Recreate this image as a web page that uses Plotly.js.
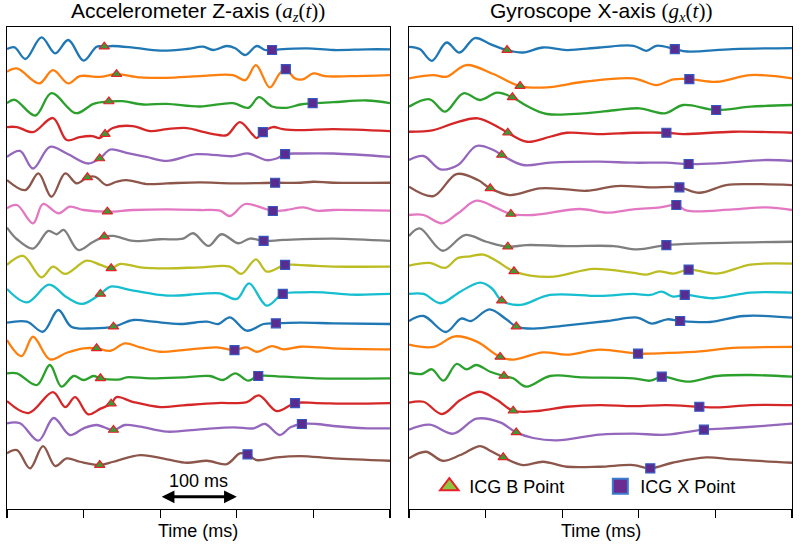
<!DOCTYPE html>
<html><head><meta charset="utf-8">
<script src="https://cdn.plot.ly/plotly-3.0.1.min.js"></script>
<style>html,body{margin:0;padding:0;background:#fff}</style>
</head><body><div id="chart" style="width:800px;height:545px"></div>
<script>
// ---- Accelerometer Z-axis: time (ms) and amplitude (a.u.) for 16 beats ----
const accTime = [
 [0,10,24,45,63,80,100,117,127,138,165,200,235,256,269,287,298,311,326,337,346,356,392,426,470,500],
 [0,13,42,60,80,95,121,143,174,208,252,295,311,325,343,356,364,376,386,400,415,448,500],
 [0,10,37,58,90,113,133,151,178,208,252,295,315,329,346,365,383,399,426,470,500],
 [0,13,34,60,78,95,111,121,128,138,164,187,209,235,252,269,287,304,320,326,334,347,360,383,426,500],
 [0,17,34,56,78,106,121,135,156,182,209,248,295,315,339,352,363,383,426,500],
 [0,24,41,58,76,91,105,115,130,143,156,182,209,252,295,350,383,400,426,500],
 [0,13,34,47,67,82,100,131,165,209,252,278,291,311,335,347,365,387,404,426,500],
 [0,13,34,54,65,74,93,111,127,139,165,200,230,243,263,280,302,317,335,361,426,500],
 [0,21,45,60,76,104,122,136,148,174,209,252,291,306,325,339,363,378,404,426,500],
 [0,26,55,78,98,122,135,165,209,252,278,300,316,339,360,383,413,448,500],
 [0,26,47,67,84,113,139,165,191,226,261,276,291,313,335,351,383,426,500],
 [0,19,34,56,78,100,117,135,154,174,200,230,274,297,313,326,346,361,383,426,500],
 [0,13,39,56,71,87,100,113,122,148,156,187,230,265,282,298,315,328,361,404,500],
 [0,28,60,76,89,106,122,136,143,165,200,230,274,313,329,352,376,404,448,500],
 [0,17,41,61,82,100,117,139,154,174,209,252,296,322,337,356,370,385,404,426,470,500],
 [0,13,30,47,63,78,95,121,139,174,209,235,261,287,304,314,326,352,383,426,500]
];
const accAmp = [
 [-1.2,0.5,-11.2,10.5,-5.5,7.8,-12.9,1.1,1.1,1.8,0.1,-2.9,-1.2,1.1,-2.2,1.8,-0.5,-7.2,1.8,-2.2,-2.2,-1.5,-0.5,-2.2,-1.5,-1.5],
 [3.3,6.7,-8.3,5,-8.3,-1,-1.7,1,-2.3,-2.7,-1,0,-5,10,-12.3,1.7,6,-3.3,-4.3,1.7,-1,-1,0],
 [-0.7,2.7,-13,9.3,-10.7,-1.3,1,1.3,-2,-1.3,-4,-0.7,-5.3,5.3,-4,-5.3,-2,-0.7,0.3,2,-0.7],
 [2.8,2.8,-2.2,11.8,-10.2,-7.2,-6.2,-8.2,-4.2,1.8,3.8,-1.2,0.8,1.8,-1.2,-4.2,-5.2,7.8,-4.2,-8.2,-2.2,2.8,0.8,-0.2,0.8,-1.2],
 [0.3,6.3,-11.3,10.3,3.7,-6.3,-1.3,7.7,4.3,0.3,-3.7,3,1,3.7,-3,-1.3,3,3.7,3.7,0.3],
 [4.5,-5.5,11.2,-12.2,11.2,1.2,7.2,7.8,-0.5,2.8,4.5,0.5,1.2,2.2,1.2,1.8,1.8,2.8,1.8,1.8],
 [3.6,6.9,-11.4,7.9,-1.4,5.2,1.9,0.2,1.9,2.6,1.9,1.2,-4.1,7.9,3.6,0.9,1.9,4.6,1.2,1.9,1.2],
 [11.7,0,-9.3,8.3,5,9.3,-10.7,-3.3,2.7,3.3,-1.7,0,0.7,6,-6.7,5,-4,0.7,-1.7,-0.7,0.7,-1.7],
 [1.7,10.7,-10.7,0,-7.3,6,1.7,-1.7,2.7,-0.7,-1.7,-0.7,0,-7.3,7.3,-5,1.7,1.7,0.7,0,0],
 [5,-8.4,9.3,-3.4,-10,0,7.3,3.3,-1.7,0,0.6,-5,10.6,-11.7,0,1.6,1.6,-0.7,0],
 [-1.4,-0.4,-10.4,11.3,-5.4,-7,-5.4,1.3,-0.4,-2.7,-0.4,-2.7,4,-9.4,-2.7,-2,-1.4,-2,-2.7],
 [8.6,-7.4,11.9,-10.7,-4.1,0.3,0.3,-2.1,5.3,1.3,-3.1,-1.4,1.3,-1.4,1.3,-3.1,2.6,-0.7,1.9,0.3,-0.7],
 [2.7,2.7,-9,11,-10.7,0,-4,0,-2.3,-3.3,-1.3,-2.3,-1.3,0,-4,2.7,-4.7,0,-0.7,-2.3,-2.3],
 [2.3,-9.7,11.3,-3.7,6.3,-11,-5.3,-0.3,6.3,1.3,-3.7,-2,0.3,1.3,8,-7.7,0.3,0.3,-0.3,0.3],
 [7.4,7.4,-10,12.7,-4.3,2.4,5.7,0.7,5.7,4,-1,1.4,3.4,2.4,6.7,-4.3,3.4,6.7,6.7,4.7,2.4,2.4],
 [4.7,8,-10.3,12,-8,-0.3,-3.7,-7,-3.7,3,-1.3,-4.7,-2.7,-6,4.7,3.7,-2,0.7,2,-0.3,-2.7]
];
const accBPoint = [127,143,133,128,121,105,131,127,136,122,139,117,122,136,139,121];
const accXPoint = [346,364,399,334,363,350,347,335,363,360,351,297,328,376,385,314];

// ---- Gyroscope X-axis ----
const gyrTime = [
 [0,14,30,49,66,86,106,128,149,175,206,249,293,310,323,347,363,423,500],
 [0,32,49,75,110,145,180,228,293,323,345,366,402,446,500],
 [0,27,47,71,93,115,135,154,180,228,271,301,334,358,401,446,500],
 [0,32,58,90,119,129,154,184,206,249,293,336,358,423,500],
 [0,19,41,64,88,110,121,149,184,249,293,336,365,402,467,500],
 [0,32,62,90,106,132,171,206,232,271,315,353,379,414,446,500],
 [0,19,43,64,88,115,133,162,223,258,293,328,349,363,423,467,500],
 [0,14,44,73,101,129,154,206,267,298,336,380,500],
 [0,27,47,64,80,97,115,137,184,241,293,310,326,345,365,402,446,500],
 [0,19,41,67,93,108,121,145,184,249,293,315,330,345,360,397,446,500],
 [0,19,48,68,81,105,127,140,162,206,259,298,317,337,354,393,437,500],
 [0,32,60,88,119,136,175,206,249,299,337,380,423,500],
 [0,17,30,45,62,75,88,106,124,136,153,184,228,293,315,330,363,402,446,500],
 [0,19,43,67,92,115,136,171,206,249,293,336,379,402,446,500],
 [0,27,58,88,119,140,162,193,249,293,336,385,423,467,500],
 [0,22,44,67,93,106,123,149,175,206,249,293,315,344,388,423,500]
];
const gyrAmp = [
 [1,-1.3,-13,5.3,-4.7,9.7,3.7,-2.3,-4.7,0.3,-2.3,0.3,2,-3,2,-1.3,-3.7,-1.3,-0.3],
 [-3.2,0.1,-1.6,10.1,1.1,-10.9,-12.2,-6.6,-3.2,-9.9,-4.2,-3.9,-6.6,0.1,-3.2],
 [-4.2,3.2,-9.2,9.2,2.5,9.8,5.2,-3.5,-11.5,-10.8,-7.5,-5.8,-10.8,-2.5,-7.5,-4.2,-2.5],
 [-1.9,-0.2,6.5,11.5,1.5,-2.9,-11.9,-6.9,-2.9,-4.2,-2.9,-2.9,-4.2,-1.9,-2.9],
 [-2.8,1.2,-12.1,-7.8,11.2,7.2,2.2,-7.8,-5.5,-4.5,-5.5,-5.5,-6.8,-6.1,-2.8,-3.8],
 [-2.2,-11.5,10.5,4.5,-3.8,-10.5,-3.8,-4.8,-6.2,-1.5,-2.8,-2.8,-8.2,-0.5,0.5,-0.5],
 [-3.1,-3.1,-11.4,-1.4,11.2,3.6,-2.1,-3.1,2.9,-0.8,2.6,4.6,6.9,1.2,2.6,4.6,1.9],
 [3.2,10.9,-11.5,4.2,-2.5,-7.5,-5.8,-6.8,-6.8,-10.1,-5.8,-4.1,-2.5],
 [1,3.7,-1.3,8.7,10.3,12,5.3,-4.7,-10.3,-2.3,-6.3,-8,-4.7,-7,-3,-7,2,3],
 [0,0,-9.3,2.3,11.3,5.7,-6.7,-11,-1,-2,0,-1,2.3,-2.7,-1,-4.3,1.3,1.3],
 [0.3,5.3,-10.7,2.7,0.3,12,2,-5.3,-7.3,-4,0.3,3.7,-2.3,2,0.3,-0.7,5.3,3.7],
 [4,1.7,12.3,7.3,-8.3,-11,-3.7,-6,-1,-5,-4.3,-2.7,0.7,1.7],
 [3.3,2,6.7,-4.7,12,6.7,11,4.3,0,-2.3,-10.7,0,-1.3,-2.3,-4.7,-0.7,-5.7,0,1,-0.7],
 [0.6,1.6,-10.7,3.3,11.6,3.3,-7.4,-7.4,-3.4,-1.7,-2.7,-1.7,-3.4,-4,-1.7,-1.7],
 [1,6,-3,12,8.3,-1.7,-7.3,-9.7,-4,-3,-4,1,2.7,5,7],
 [-0.3,6.3,-2.7,3,12,7.3,0.7,-7,-3.7,-8.7,-8.7,-7,-10.3,-4.7,0.7,-1.3,-4.7]
];
const gyrBPoint = [128,145,135,129,121,106,133,129,137,121,140,119,124,136,140,123];
const gyrXPoint = [347,366,401,336,365,353,349,336,365,360,354,299,330,379,385,315];

const legendNames = ['ICG B Point', 'ICG X Point'];
const panelTitles = [
  'Accelerometer Z-axis <span style="font-family:Liberation Serif">(<i>a</i><sub><i>z</i></sub>(<i>t</i>))</span>',
  'Gyroscope X-axis <span style="font-family:Liberation Serif">(<i>g</i><sub><i>x</i></sub>(<i>t</i>))</span>'
];
const xLabel = 'Time (ms)';
const scaleLabel = '100 ms';

// ---- drawing ----
const colors = ['#1f77b4','#ff7f0e','#2ca02c','#d62728','#9467bd','#8c564b','#e377c2','#7f7f7f','#bcbd22','#17becf'];
const SPACING = 27.35;
const traces = [];

function valueAt(t, a, tq){
  const k = t.indexOf(tq);
  if (k >= 0) return a[k];
  for (let j=0;j<t.length-1;j++){
    if (tq>=t[j] && tq<=t[j+1]) { const f=(tq-t[j])/(t[j+1]-t[j]); return a[j]+f*(a[j+1]-a[j]); }
  }
  return 0;
}

function buildPanel(times, amps, bPts, xPts, xa, ya){
  times.forEach((t,i)=>{
    const off = -i*SPACING;
    traces.push({x:t, y:amps[i].map(v=>v+off), xaxis:xa, yaxis:ya, type:'scatter', mode:'lines',
      line:{color:colors[i%10], width:2.3, shape:'spline', smoothing:1}, showlegend:false, hoverinfo:'skip'});
  });
  const by = bPts.map((tq,i)=>valueAt(times[i], amps[i], tq) - i*SPACING);
  const xy = xPts.map((tq,i)=>valueAt(times[i], amps[i], tq) - i*SPACING);
  traces.push({x:bPts, y:by, xaxis:xa, yaxis:ya, type:'scatter', mode:'markers', showlegend:false, hoverinfo:'skip',
    marker:{symbol:'triangle-up', size:9, color:'#3a9a35', line:{color:'#e8202a', width:1.2}}});
  traces.push({x:xPts, y:xy, xaxis:xa, yaxis:ya, type:'scatter', mode:'markers', showlegend:false, hoverinfo:'skip',
    marker:{symbol:'square', size:9, color:'#5b2c8f', line:{color:'#3557c0', width:1.2}}});
}
buildPanel(accTime, accAmp, accBPoint, accXPoint, 'x', 'y');
buildPanel(gyrTime, gyrAmp, gyrBPoint, gyrXPoint, 'x2', 'y2');

// legend entries
traces.push({x:[null], y:[null], xaxis:'x2', yaxis:'y2', type:'scatter', mode:'markers', name:legendNames[0],
  marker:{symbol:'triangle-up', size:16, color:'#8dc63f', line:{color:'#e8202a', width:2}}});
traces.push({x:[null], y:[null], xaxis:'x2', yaxis:'y2', type:'scatter', mode:'markers', name:legendNames[1],
  marker:{symbol:'square', size:15, color:'#6a2c91', line:{color:'#3b7bd0', width:2}}});

const FONT = 'Liberation Sans, Arial, sans-serif';
const xCommon = {range:[0,500], tickvals:[0,100,200,300,400,500], ticks:'outside', ticklen:8, tickwidth:1.3, tickcolor:'#000',
  showticklabels:false, showline:true, mirror:true, linecolor:'#000', linewidth:1.3, showgrid:false, zeroline:false, fixedrange:true};
const yCommon = {range:[-461.2, 20.8], showticklabels:false, ticks:'', showline:true, mirror:true, linecolor:'#000', linewidth:1.3,
  showgrid:false, zeroline:false, fixedrange:true};

const layout = {
  width:800, height:545, autosize:false,
  margin:{l:7, r:8, t:27, b:36, autoexpand:false},
  paper_bgcolor:'#fff', plot_bgcolor:'#fff',
  font:{family:FONT, color:'#000', size:18},
  xaxis:Object.assign({domain:[0, 0.4879], anchor:'y'}, xCommon),
  yaxis:Object.assign({domain:[0,1], anchor:'x'}, yCommon),
  xaxis2:Object.assign({domain:[0.5121, 1], anchor:'y2'}, xCommon),
  yaxis2:Object.assign({domain:[0,1], anchor:'x2'}, yCommon),
  showlegend:true,
  legend:{orientation:'h', x:0.538, xanchor:'left', y:0.085, yanchor:'top', bgcolor:'rgba(0,0,0,0)',
    font:{family:FONT, size:18, color:'#000'}, entrywidth:126, itemclick:false},
  annotations:[
    {text:panelTitles[0], xref:'paper', yref:'paper', x:0.2439, y:1, yanchor:'bottom', xanchor:'center', showarrow:false, font:{size:21}},
    {text:panelTitles[1], xref:'paper', yref:'paper', x:0.7561, y:1, yanchor:'bottom', xanchor:'center', showarrow:false, font:{size:21}},
    {text:xLabel, xref:'paper', yref:'paper', x:0.2439, y:-0.02, yanchor:'top', xanchor:'center', showarrow:false, font:{size:18}},
    {text:xLabel, xref:'paper', yref:'paper', x:0.7561, y:-0.02, yanchor:'top', xanchor:'center', showarrow:false, font:{size:18}},
    {text:scaleLabel, xref:'x', yref:'y', x:250, y:-421, yanchor:'top', xanchor:'center', showarrow:false, font:{size:18}},
    {text:'', xref:'x', yref:'y', x:300, y:-449, axref:'x', ayref:'y', ax:200, ay:-449, showarrow:true,
      arrowhead:2, startarrowhead:2, arrowside:'end+start', arrowwidth:3, arrowsize:0.85, startarrowsize:0.85, arrowcolor:'#000', standoff:0, startstandoff:0}
  ]
};
Plotly.newPlot('chart', traces, layout, {staticPlot:true, displayModeBar:false});
</script>
</body></html>
